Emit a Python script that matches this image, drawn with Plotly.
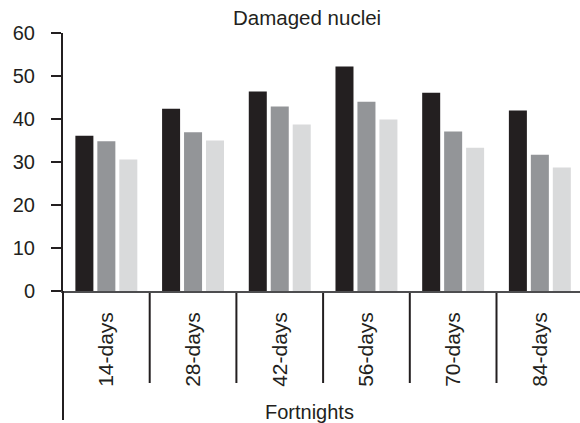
import plotly.graph_objects as go

categories = ["14-days", "28-days", "42-days", "56-days", "70-days", "84-days"]
series_a = [36.1, 42.4, 46.4, 52.2, 46.1, 42.0]
series_b = [34.8, 36.9, 42.9, 44.0, 37.1, 31.7]
series_c = [30.6, 35.0, 38.7, 39.9, 33.3, 28.7]
series_names = ["Series 1", "Series 2", "Series 3"]
colors = ["#231f20", "#939598", "#d9dadb"]
y_ticks = [0, 10, 20, 30, 40, 50, 60]

FONT = "Liberation Sans, Arial, sans-serif"
W, H = 580, 423
ml, mr, mt, mb = 63, 0, 33, 132
plot_h = H - mt - mb

fig = go.Figure()
for name, vals, col in zip(series_names, [series_a, series_b, series_c], colors):
    fig.add_trace(go.Bar(x=categories, y=vals, name=name, marker=dict(color=col, line=dict(width=0))))

shapes = []
# category separators
for i in range(1, len(categories)):
    shapes.append(dict(type="line", xref="x", yref="paper", x0=i - 0.5, x1=i - 0.5,
                       y0=-2 / plot_h, y1=-(383 - 291) / plot_h,
                       line=dict(color="#231f20", width=2)))
# y axis extension below zero
shapes.append(dict(type="line", xref="paper", yref="paper", x0=0, x1=0,
                   y0=0, y1=-(420 - 291) / plot_h, line=dict(color="#231f20", width=2)))

fig.update_layout(
    width=W, height=H,
    margin=dict(l=ml, r=mr, t=mt, b=mb, pad=0),
    paper_bgcolor="white", plot_bgcolor="white",
    showlegend=False,
    barmode="group", bargap=0.24, bargroupgap=0.18,
    font=dict(family=FONT, color="#231f20"),
    shapes=shapes,
    annotations=[
        dict(text="Damaged nuclei", xref="paper", yref="paper",
             x=(307 - ml) / (W - ml - mr), y=1 + (33 - 18) / plot_h,
             xanchor="center", yanchor="middle", showarrow=False,
             font=dict(size=20.5, family=FONT, color="#231f20")),
        dict(text="Fortnights", xref="paper", yref="paper",
             x=(309 - ml) / (W - ml - mr), y=-(412 - 291) / plot_h,
             xanchor="center", yanchor="middle", showarrow=False,
             font=dict(size=20, family=FONT, color="#231f20")),
    ],
    xaxis=dict(
        type="category", range=[-0.5, -0.5 + (W - ml - mr) / 86.7],
        showline=True, linecolor="#4d4d4f", linewidth=1.5,
        showgrid=False, zeroline=False, ticks="",
        tickangle=-90, ticklabelstandoff=11,
        tickfont=dict(size=21, family=FONT, color="#231f20"),
    ),
    yaxis=dict(
        range=[0, 60], tickvals=y_ticks,
        showline=True, linecolor="#231f20", linewidth=2,
        showgrid=False, zeroline=False,
        ticks="outside", ticklen=10, tickwidth=1.5, tickcolor="#231f20",
        ticklabelstandoff=12,
        tickfont=dict(size=20, family=FONT, color="#231f20"),
    ),
)

fig.write_html("out.html")
